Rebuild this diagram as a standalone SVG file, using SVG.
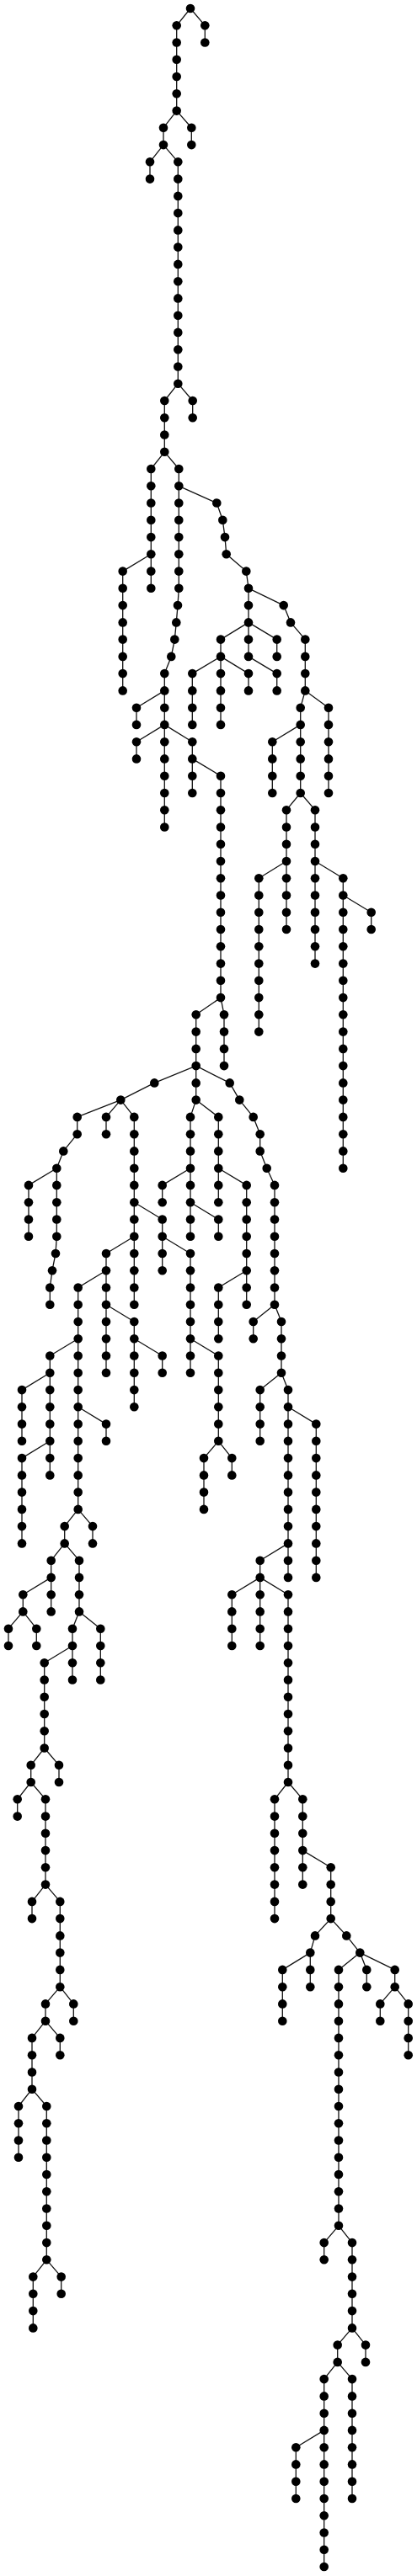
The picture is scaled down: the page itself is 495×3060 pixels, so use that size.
<svg xmlns="http://www.w3.org/2000/svg" width="495" height="3060" viewBox="0 0 495 3060">
<style>
.e path{fill:none;stroke:#111;stroke-width:1.3;stroke-linejoin:round}
.nodes circle{fill:#000}
</style>
<rect width="495" height="3060" fill="#fff"/>
<g class="e" id="connectors">
<path d="M226,10 L243.3,30.3 V50.5"/>
<path d="M226,10 L209.7,30.3 V131.6 L194,151.8 V172.1 L211.3,192.3 V455.7 L195.3,476 V536.8 L212.3,557 V698.8 L211,719.1 L209.3,739.4 L207.3,759.6 L203.3,779.9 L195.3,800.1 V860.9 L228.3,881.2 V901.4 L262,921.7 V1185.1 L232.7,1205.3 V1306.6 L259.3,1326.9 V1387.7 L292.7,1407.9 V1509.2 L259.3,1529.5 V1590.3"/>
<path d="M209.7,131.6 L227.3,151.8 V172.1"/>
<path d="M194,172.1 L178,192.3 V212.6"/>
<path d="M211.3,455.7 L228.7,476 V496.2"/>
<path d="M195.3,536.8 L179.3,557 V658.3 L145.7,678.6 V820.4"/>
<path d="M179.3,658.3 V698.8"/>
<path d="M212.3,577.3 L257.3,597.5 L264.3,617.8 L267,638.1 L268.7,658.3 L292.3,678.6 L295,698.8 V779.9 L328.7,800.1 V820.4"/>
<path d="M295,698.8 L336.7,719.1 L345,739.4 L362.3,759.6 V820.4 L390,840.7 V942"/>
<path d="M362.3,820.4 L356.7,840.7 V942 L374,962.2 V1144.6"/>
<path d="M356.7,860.9 L323.3,881.2 V942"/>
<path d="M356.7,942 L340,962.2 V1023 L307.3,1043.3 V1225.6"/>
<path d="M340,1023 V1104"/>
<path d="M374,1023 L407.3,1043.3 V1387.7"/>
<path d="M407.3,1063.5 L440.7,1083.8 V1104"/>
<path d="M295,739.4 L262,759.6 V860.9"/>
<path d="M295,739.4 L328.7,759.6 V779.9"/>
<path d="M262,779.9 L228.3,800.1 V860.9"/>
<path d="M262,779.9 L295,800.1 V820.4"/>
<path d="M195.3,820.4 L162,840.7 V860.9"/>
<path d="M195.3,860.9 L162,881.2 V901.4"/>
<path d="M195.3,860.9 V982.5"/>
<path d="M228.3,901.4 V942"/>
<path d="M262,1185.1 L266,1205.3 V1266.1"/>
<path d="M232.7,1266.1 L183.3,1286.4 L143.3,1306.6 L91.7,1326.9 V1347.2 L75.3,1367.4 L67.3,1387.7 V1468.7 L66,1489 L62,1509.2 L59.3,1529.5 V1549.8"/>
<path d="M232.7,1266.1 L272.7,1286.4 L284.3,1306.6 L300.7,1326.9 L308.7,1347.2 V1367.4 L316.7,1387.7 L326,1407.9 V1549.8 L334,1570 V1630.8 L342,1651.1 V1833.4 L308.7,1853.7 V1873.9 L342,1894.2 V2117 L359.3,2137.3 V2198.1 L392.7,2218.3 V2279.1 L411.3,2299.4 L427.3,2319.6 L402,2339.9 V2643.8 L418,2664.1 V2765.4 L400.7,2785.6 V2805.9 L384.7,2826.1 V3049"/>
<path d="M67.3,1387.7 L34,1407.9 V1468.7"/>
<path d="M143.3,1306.6 L126,1326.9 V1347.2"/>
<path d="M143.3,1306.6 L159.3,1326.9 V1468.7 L126,1489 V1509.2 L92.7,1529.5 V1792.9 L76.7,1813.1 V1833.4 L94,1853.7 V1914.4 L86,1934.7 V1955 L52.7,1975.2 V2076.5 L36.7,2096.8 V2117 L54,2137.3 V2238.6 L71.3,2258.9 V2360.2 L54,2380.4 V2400.7 L38,2420.9 V2481.7 L55.3,2502 V2684.3 L39.3,2704.6 V2765.4"/>
<path d="M159.3,1428.2 L192.7,1448.5 V1468.7 L226,1489 V1590.3 L259.3,1610.5 V1711.8 L242,1732.1 V1792.9"/>
<path d="M192.7,1468.7 V1509.2"/>
<path d="M159.3,1468.7 V1549.8"/>
<path d="M126,1509.2 V1549.8 L159.3,1570 V1590.3 L192.7,1610.5 V1630.8"/>
<path d="M126,1549.8 V1630.8"/>
<path d="M159.3,1590.3 V1671.3"/>
<path d="M92.7,1590.3 L59.3,1610.5 V1630.8 L26,1651.1 V1711.8"/>
<path d="M59.3,1630.8 V1711.8 L26,1732.1 V1833.4"/>
<path d="M59.3,1711.8 V1752.4"/>
<path d="M92.7,1671.3 L126,1691.6 V1711.8"/>
<path d="M92.7,1792.9 L110,1813.1 V1833.4"/>
<path d="M76.7,1833.4 L60.7,1853.7 V1873.9 L27.3,1894.2 V1914.4 L10,1934.7 V1955"/>
<path d="M60.7,1873.9 V1914.4"/>
<path d="M27.3,1914.4 L43.3,1934.7 V1955"/>
<path d="M94,1914.4 L119.3,1934.7 V1995.5"/>
<path d="M86,1955 V1995.5"/>
<path d="M52.7,2076.5 L70,2096.8 V2117"/>
<path d="M36.7,2117 L20.7,2137.3 V2157.6"/>
<path d="M54,2238.6 L38,2258.9 V2279.1"/>
<path d="M71.3,2360.2 L87.3,2380.4 V2400.7"/>
<path d="M54,2400.7 L71.3,2420.9 V2441.2"/>
<path d="M38,2481.7 L22,2502 V2562.8"/>
<path d="M55.3,2684.3 L72.7,2704.6 V2724.8"/>
<path d="M232.7,1306.6 L226,1326.9 V1468.7"/>
<path d="M226,1387.7 L192.7,1407.9 V1428.2"/>
<path d="M226,1428.2 L259.3,1448.5 V1468.7"/>
<path d="M259.3,1387.7 V1428.2"/>
<path d="M292.7,1509.2 V1549.8"/>
<path d="M226,1590.3 V1630.8"/>
<path d="M259.3,1711.8 L275.3,1732.1 V1752.4"/>
<path d="M326,1549.8 L300.7,1570 V1590.3"/>
<path d="M334,1630.8 L308.7,1651.1 V1711.8"/>
<path d="M342,1671.3 L375.3,1691.6 V1873.9"/>
<path d="M342,1833.4 V1873.9"/>
<path d="M308.7,1873.9 L275.3,1894.2 V1955"/>
<path d="M308.7,1873.9 V1955"/>
<path d="M342,2117 L326,2137.3 V2279.1"/>
<path d="M359.3,2198.1 V2238.6"/>
<path d="M392.7,2279.1 L374,2299.4 L368.3,2319.6 L335.3,2339.9 V2400.7"/>
<path d="M368.3,2319.6 V2360.2"/>
<path d="M427.3,2319.6 L435.3,2339.9 V2360.2"/>
<path d="M427.3,2319.6 L468.7,2339.9 V2360.2 L484.7,2380.4 V2441.2"/>
<path d="M468.7,2360.2 L451.3,2380.4 V2400.7"/>
<path d="M402,2643.8 L384.7,2664.1 V2684.3"/>
<path d="M418,2765.4 L434,2785.6 V2805.9"/>
<path d="M400.7,2805.9 L418,2826.1 V2968"/>
<path d="M384.7,2886.9 L351.3,2907.2 V2968"/>
</g>
<g class="nodes">
<g id="n0"><circle cx="226" cy="10" r="5.3"/></g>
<g id="n1"><circle cx="243.3" cy="30.3" r="5.3"/></g>
<g id="n2"><circle cx="243.3" cy="50.5" r="5.3"/></g>
<g id="n3"><circle cx="209.7" cy="30.3" r="5.3"/></g>
<g id="n4"><circle cx="209.7" cy="50.5" r="5.3"/></g>
<g id="n5"><circle cx="209.7" cy="70.8" r="5.3"/></g>
<g id="n6"><circle cx="209.7" cy="91" r="5.3"/></g>
<g id="n7"><circle cx="209.7" cy="111.3" r="5.3"/></g>
<g id="n8"><circle cx="209.7" cy="131.6" r="5.3"/></g>
<g id="n9"><circle cx="194" cy="151.8" r="5.3"/></g>
<g id="n10"><circle cx="194" cy="172.1" r="5.3"/></g>
<g id="n11"><circle cx="227.3" cy="151.8" r="5.3"/></g>
<g id="n12"><circle cx="227.3" cy="172.1" r="5.3"/></g>
<g id="n13"><circle cx="178" cy="192.3" r="5.3"/></g>
<g id="n14"><circle cx="178" cy="212.6" r="5.3"/></g>
<g id="n15"><circle cx="211.3" cy="192.3" r="5.3"/></g>
<g id="n16"><circle cx="211.3" cy="212.6" r="5.3"/></g>
<g id="n17"><circle cx="211.3" cy="232.9" r="5.3"/></g>
<g id="n18"><circle cx="211.3" cy="253.1" r="5.3"/></g>
<g id="n19"><circle cx="211.3" cy="273.4" r="5.3"/></g>
<g id="n20"><circle cx="211.3" cy="293.6" r="5.3"/></g>
<g id="n21"><circle cx="211.3" cy="313.9" r="5.3"/></g>
<g id="n22"><circle cx="211.3" cy="334.2" r="5.3"/></g>
<g id="n23"><circle cx="211.3" cy="354.4" r="5.3"/></g>
<g id="n24"><circle cx="211.3" cy="374.7" r="5.3"/></g>
<g id="n25"><circle cx="211.3" cy="394.9" r="5.3"/></g>
<g id="n26"><circle cx="211.3" cy="415.2" r="5.3"/></g>
<g id="n27"><circle cx="211.3" cy="435.5" r="5.3"/></g>
<g id="n28"><circle cx="211.3" cy="455.7" r="5.3"/></g>
<g id="n29"><circle cx="195.3" cy="476" r="5.3"/></g>
<g id="n30"><circle cx="195.3" cy="496.2" r="5.3"/></g>
<g id="n31"><circle cx="195.3" cy="516.5" r="5.3"/></g>
<g id="n32"><circle cx="195.3" cy="536.8" r="5.3"/></g>
<g id="n33"><circle cx="228.7" cy="476" r="5.3"/></g>
<g id="n34"><circle cx="228.7" cy="496.2" r="5.3"/></g>
<g id="n35"><circle cx="179.3" cy="557" r="5.3"/></g>
<g id="n36"><circle cx="179.3" cy="577.3" r="5.3"/></g>
<g id="n37"><circle cx="179.3" cy="597.5" r="5.3"/></g>
<g id="n38"><circle cx="179.3" cy="617.8" r="5.3"/></g>
<g id="n39"><circle cx="179.3" cy="638.1" r="5.3"/></g>
<g id="n40"><circle cx="179.3" cy="658.3" r="5.3"/></g>
<g id="n41"><circle cx="179.3" cy="678.6" r="5.3"/></g>
<g id="n42"><circle cx="179.3" cy="698.8" r="5.3"/></g>
<g id="n43"><circle cx="212.3" cy="557" r="5.3"/></g>
<g id="n44"><circle cx="212.3" cy="577.3" r="5.3"/></g>
<g id="n45"><circle cx="212.3" cy="597.5" r="5.3"/></g>
<g id="n46"><circle cx="212.3" cy="617.8" r="5.3"/></g>
<g id="n47"><circle cx="212.3" cy="638.1" r="5.3"/></g>
<g id="n48"><circle cx="212.3" cy="658.3" r="5.3"/></g>
<g id="n49"><circle cx="212.3" cy="678.6" r="5.3"/></g>
<g id="n50"><circle cx="212.3" cy="698.8" r="5.3"/></g>
<g id="n51"><circle cx="145.7" cy="678.6" r="5.3"/></g>
<g id="n52"><circle cx="145.7" cy="698.8" r="5.3"/></g>
<g id="n53"><circle cx="145.7" cy="719.1" r="5.3"/></g>
<g id="n54"><circle cx="145.7" cy="739.4" r="5.3"/></g>
<g id="n55"><circle cx="145.7" cy="759.6" r="5.3"/></g>
<g id="n56"><circle cx="145.7" cy="779.9" r="5.3"/></g>
<g id="n57"><circle cx="145.7" cy="800.1" r="5.3"/></g>
<g id="n58"><circle cx="145.7" cy="820.4" r="5.3"/></g>
<g id="n59"><circle cx="257.3" cy="597.5" r="5.3"/></g>
<g id="n60"><circle cx="264.3" cy="617.8" r="5.3"/></g>
<g id="n61"><circle cx="267" cy="638.1" r="5.3"/></g>
<g id="n62"><circle cx="268.7" cy="658.3" r="5.3"/></g>
<g id="n63"><circle cx="292.3" cy="678.6" r="5.3"/></g>
<g id="n64"><circle cx="295" cy="698.8" r="5.3"/></g>
<g id="n65"><circle cx="295" cy="719.1" r="5.3"/></g>
<g id="n66"><circle cx="295" cy="739.4" r="5.3"/></g>
<g id="n67"><circle cx="295" cy="759.6" r="5.3"/></g>
<g id="n68"><circle cx="295" cy="779.9" r="5.3"/></g>
<g id="n69"><circle cx="211" cy="719.1" r="5.3"/></g>
<g id="n70"><circle cx="209.3" cy="739.4" r="5.3"/></g>
<g id="n71"><circle cx="207.3" cy="759.6" r="5.3"/></g>
<g id="n72"><circle cx="203.3" cy="779.9" r="5.3"/></g>
<g id="n73"><circle cx="195.3" cy="800.1" r="5.3"/></g>
<g id="n74"><circle cx="195.3" cy="820.4" r="5.3"/></g>
<g id="n75"><circle cx="195.3" cy="840.7" r="5.3"/></g>
<g id="n76"><circle cx="195.3" cy="860.9" r="5.3"/></g>
<g id="n77"><circle cx="195.3" cy="881.2" r="5.3"/></g>
<g id="n78"><circle cx="195.3" cy="901.4" r="5.3"/></g>
<g id="n79"><circle cx="195.3" cy="921.7" r="5.3"/></g>
<g id="n80"><circle cx="195.3" cy="942" r="5.3"/></g>
<g id="n81"><circle cx="195.3" cy="962.2" r="5.3"/></g>
<g id="n82"><circle cx="195.3" cy="982.5" r="5.3"/></g>
<g id="n83"><circle cx="336.7" cy="719.1" r="5.3"/></g>
<g id="n84"><circle cx="345" cy="739.4" r="5.3"/></g>
<g id="n85"><circle cx="362.3" cy="759.6" r="5.3"/></g>
<g id="n86"><circle cx="362.3" cy="779.9" r="5.3"/></g>
<g id="n87"><circle cx="362.3" cy="800.1" r="5.3"/></g>
<g id="n88"><circle cx="362.3" cy="820.4" r="5.3"/></g>
<g id="n89"><circle cx="262" cy="759.6" r="5.3"/></g>
<g id="n90"><circle cx="262" cy="779.9" r="5.3"/></g>
<g id="n91"><circle cx="262" cy="800.1" r="5.3"/></g>
<g id="n92"><circle cx="262" cy="820.4" r="5.3"/></g>
<g id="n93"><circle cx="262" cy="840.7" r="5.3"/></g>
<g id="n94"><circle cx="262" cy="860.9" r="5.3"/></g>
<g id="n95"><circle cx="328.7" cy="759.6" r="5.3"/></g>
<g id="n96"><circle cx="328.7" cy="779.9" r="5.3"/></g>
<g id="n97"><circle cx="228.3" cy="800.1" r="5.3"/></g>
<g id="n98"><circle cx="228.3" cy="820.4" r="5.3"/></g>
<g id="n99"><circle cx="228.3" cy="840.7" r="5.3"/></g>
<g id="n100"><circle cx="228.3" cy="860.9" r="5.3"/></g>
<g id="n101"><circle cx="295" cy="800.1" r="5.3"/></g>
<g id="n102"><circle cx="295" cy="820.4" r="5.3"/></g>
<g id="n103"><circle cx="328.7" cy="800.1" r="5.3"/></g>
<g id="n104"><circle cx="328.7" cy="820.4" r="5.3"/></g>
<g id="n105"><circle cx="162" cy="840.7" r="5.3"/></g>
<g id="n106"><circle cx="162" cy="860.9" r="5.3"/></g>
<g id="n107"><circle cx="162" cy="881.2" r="5.3"/></g>
<g id="n108"><circle cx="162" cy="901.4" r="5.3"/></g>
<g id="n109"><circle cx="228.3" cy="881.2" r="5.3"/></g>
<g id="n110"><circle cx="228.3" cy="901.4" r="5.3"/></g>
<g id="n111"><circle cx="228.3" cy="921.7" r="5.3"/></g>
<g id="n112"><circle cx="228.3" cy="942" r="5.3"/></g>
<g id="n113"><circle cx="262" cy="921.7" r="5.3"/></g>
<g id="n114"><circle cx="262" cy="942" r="5.3"/></g>
<g id="n115"><circle cx="262" cy="962.2" r="5.3"/></g>
<g id="n116"><circle cx="262" cy="982.5" r="5.3"/></g>
<g id="n117"><circle cx="262" cy="1002.7" r="5.3"/></g>
<g id="n118"><circle cx="262" cy="1023" r="5.3"/></g>
<g id="n119"><circle cx="262" cy="1043.3" r="5.3"/></g>
<g id="n120"><circle cx="262" cy="1063.5" r="5.3"/></g>
<g id="n121"><circle cx="262" cy="1083.8" r="5.3"/></g>
<g id="n122"><circle cx="262" cy="1104" r="5.3"/></g>
<g id="n123"><circle cx="262" cy="1124.3" r="5.3"/></g>
<g id="n124"><circle cx="262" cy="1144.6" r="5.3"/></g>
<g id="n125"><circle cx="262" cy="1164.8" r="5.3"/></g>
<g id="n126"><circle cx="262" cy="1185.1" r="5.3"/></g>
<g id="n127"><circle cx="390" cy="840.7" r="5.3"/></g>
<g id="n128"><circle cx="390" cy="860.9" r="5.3"/></g>
<g id="n129"><circle cx="390" cy="881.2" r="5.3"/></g>
<g id="n130"><circle cx="390" cy="901.4" r="5.3"/></g>
<g id="n131"><circle cx="390" cy="921.7" r="5.3"/></g>
<g id="n132"><circle cx="390" cy="942" r="5.3"/></g>
<g id="n133"><circle cx="356.7" cy="840.7" r="5.3"/></g>
<g id="n134"><circle cx="356.7" cy="860.9" r="5.3"/></g>
<g id="n135"><circle cx="356.7" cy="881.2" r="5.3"/></g>
<g id="n136"><circle cx="356.7" cy="901.4" r="5.3"/></g>
<g id="n137"><circle cx="356.7" cy="921.7" r="5.3"/></g>
<g id="n138"><circle cx="356.7" cy="942" r="5.3"/></g>
<g id="n139"><circle cx="323.3" cy="881.2" r="5.3"/></g>
<g id="n140"><circle cx="323.3" cy="901.4" r="5.3"/></g>
<g id="n141"><circle cx="323.3" cy="921.7" r="5.3"/></g>
<g id="n142"><circle cx="323.3" cy="942" r="5.3"/></g>
<g id="n143"><circle cx="340" cy="962.2" r="5.3"/></g>
<g id="n144"><circle cx="340" cy="982.5" r="5.3"/></g>
<g id="n145"><circle cx="340" cy="1002.7" r="5.3"/></g>
<g id="n146"><circle cx="340" cy="1023" r="5.3"/></g>
<g id="n147"><circle cx="340" cy="1043.3" r="5.3"/></g>
<g id="n148"><circle cx="340" cy="1063.5" r="5.3"/></g>
<g id="n149"><circle cx="340" cy="1083.8" r="5.3"/></g>
<g id="n150"><circle cx="340" cy="1104" r="5.3"/></g>
<g id="n151"><circle cx="374" cy="962.2" r="5.3"/></g>
<g id="n152"><circle cx="374" cy="982.5" r="5.3"/></g>
<g id="n153"><circle cx="374" cy="1002.7" r="5.3"/></g>
<g id="n154"><circle cx="374" cy="1023" r="5.3"/></g>
<g id="n155"><circle cx="374" cy="1043.3" r="5.3"/></g>
<g id="n156"><circle cx="374" cy="1063.5" r="5.3"/></g>
<g id="n157"><circle cx="374" cy="1083.8" r="5.3"/></g>
<g id="n158"><circle cx="374" cy="1104" r="5.3"/></g>
<g id="n159"><circle cx="374" cy="1124.3" r="5.3"/></g>
<g id="n160"><circle cx="374" cy="1144.6" r="5.3"/></g>
<g id="n161"><circle cx="307.3" cy="1043.3" r="5.3"/></g>
<g id="n162"><circle cx="307.3" cy="1063.5" r="5.3"/></g>
<g id="n163"><circle cx="307.3" cy="1083.8" r="5.3"/></g>
<g id="n164"><circle cx="307.3" cy="1104" r="5.3"/></g>
<g id="n165"><circle cx="307.3" cy="1124.3" r="5.3"/></g>
<g id="n166"><circle cx="307.3" cy="1144.6" r="5.3"/></g>
<g id="n167"><circle cx="307.3" cy="1164.8" r="5.3"/></g>
<g id="n168"><circle cx="307.3" cy="1185.1" r="5.3"/></g>
<g id="n169"><circle cx="307.3" cy="1205.3" r="5.3"/></g>
<g id="n170"><circle cx="307.3" cy="1225.6" r="5.3"/></g>
<g id="n171"><circle cx="407.3" cy="1043.3" r="5.3"/></g>
<g id="n172"><circle cx="407.3" cy="1063.5" r="5.3"/></g>
<g id="n173"><circle cx="407.3" cy="1083.8" r="5.3"/></g>
<g id="n174"><circle cx="407.3" cy="1104" r="5.3"/></g>
<g id="n175"><circle cx="407.3" cy="1124.3" r="5.3"/></g>
<g id="n176"><circle cx="407.3" cy="1144.6" r="5.3"/></g>
<g id="n177"><circle cx="407.3" cy="1164.8" r="5.3"/></g>
<g id="n178"><circle cx="407.3" cy="1185.1" r="5.3"/></g>
<g id="n179"><circle cx="407.3" cy="1205.3" r="5.3"/></g>
<g id="n180"><circle cx="407.3" cy="1225.6" r="5.3"/></g>
<g id="n181"><circle cx="407.3" cy="1245.9" r="5.3"/></g>
<g id="n182"><circle cx="407.3" cy="1266.1" r="5.3"/></g>
<g id="n183"><circle cx="407.3" cy="1286.4" r="5.3"/></g>
<g id="n184"><circle cx="407.3" cy="1306.6" r="5.3"/></g>
<g id="n185"><circle cx="407.3" cy="1326.9" r="5.3"/></g>
<g id="n186"><circle cx="407.3" cy="1347.2" r="5.3"/></g>
<g id="n187"><circle cx="407.3" cy="1367.4" r="5.3"/></g>
<g id="n188"><circle cx="407.3" cy="1387.7" r="5.3"/></g>
<g id="n189"><circle cx="440.7" cy="1083.8" r="5.3"/></g>
<g id="n190"><circle cx="440.7" cy="1104" r="5.3"/></g>
<g id="n191"><circle cx="232.7" cy="1205.3" r="5.3"/></g>
<g id="n192"><circle cx="232.7" cy="1225.6" r="5.3"/></g>
<g id="n193"><circle cx="232.7" cy="1245.9" r="5.3"/></g>
<g id="n194"><circle cx="232.7" cy="1266.1" r="5.3"/></g>
<g id="n195"><circle cx="232.7" cy="1286.4" r="5.3"/></g>
<g id="n196"><circle cx="232.7" cy="1306.6" r="5.3"/></g>
<g id="n197"><circle cx="266" cy="1205.3" r="5.3"/></g>
<g id="n198"><circle cx="266" cy="1225.6" r="5.3"/></g>
<g id="n199"><circle cx="266" cy="1245.9" r="5.3"/></g>
<g id="n200"><circle cx="266" cy="1266.1" r="5.3"/></g>
<g id="n201"><circle cx="183.3" cy="1286.4" r="5.3"/></g>
<g id="n202"><circle cx="272.7" cy="1286.4" r="5.3"/></g>
<g id="n203"><circle cx="284.3" cy="1306.6" r="5.3"/></g>
<g id="n204"><circle cx="300.7" cy="1326.9" r="5.3"/></g>
<g id="n205"><circle cx="308.7" cy="1347.2" r="5.3"/></g>
<g id="n206"><circle cx="308.7" cy="1367.4" r="5.3"/></g>
<g id="n207"><circle cx="316.7" cy="1387.7" r="5.3"/></g>
<g id="n208"><circle cx="143.3" cy="1306.6" r="5.3"/></g>
<g id="n209"><circle cx="91.7" cy="1326.9" r="5.3"/></g>
<g id="n210"><circle cx="91.7" cy="1347.2" r="5.3"/></g>
<g id="n211"><circle cx="75.3" cy="1367.4" r="5.3"/></g>
<g id="n212"><circle cx="67.3" cy="1387.7" r="5.3"/></g>
<g id="n213"><circle cx="67.3" cy="1407.9" r="5.3"/></g>
<g id="n214"><circle cx="67.3" cy="1428.2" r="5.3"/></g>
<g id="n215"><circle cx="67.3" cy="1448.5" r="5.3"/></g>
<g id="n216"><circle cx="67.3" cy="1468.7" r="5.3"/></g>
<g id="n217"><circle cx="66" cy="1489" r="5.3"/></g>
<g id="n218"><circle cx="62" cy="1509.2" r="5.3"/></g>
<g id="n219"><circle cx="59.3" cy="1529.5" r="5.3"/></g>
<g id="n220"><circle cx="59.3" cy="1549.8" r="5.3"/></g>
<g id="n221"><circle cx="126" cy="1326.9" r="5.3"/></g>
<g id="n222"><circle cx="126" cy="1347.2" r="5.3"/></g>
<g id="n223"><circle cx="159.3" cy="1326.9" r="5.3"/></g>
<g id="n224"><circle cx="159.3" cy="1347.2" r="5.3"/></g>
<g id="n225"><circle cx="159.3" cy="1367.4" r="5.3"/></g>
<g id="n226"><circle cx="159.3" cy="1387.7" r="5.3"/></g>
<g id="n227"><circle cx="159.3" cy="1407.9" r="5.3"/></g>
<g id="n228"><circle cx="159.3" cy="1428.2" r="5.3"/></g>
<g id="n229"><circle cx="159.3" cy="1448.5" r="5.3"/></g>
<g id="n230"><circle cx="159.3" cy="1468.7" r="5.3"/></g>
<g id="n231"><circle cx="226" cy="1326.9" r="5.3"/></g>
<g id="n232"><circle cx="226" cy="1347.2" r="5.3"/></g>
<g id="n233"><circle cx="226" cy="1367.4" r="5.3"/></g>
<g id="n234"><circle cx="226" cy="1387.7" r="5.3"/></g>
<g id="n235"><circle cx="226" cy="1407.9" r="5.3"/></g>
<g id="n236"><circle cx="226" cy="1428.2" r="5.3"/></g>
<g id="n237"><circle cx="226" cy="1448.5" r="5.3"/></g>
<g id="n238"><circle cx="226" cy="1468.7" r="5.3"/></g>
<g id="n239"><circle cx="259.3" cy="1326.9" r="5.3"/></g>
<g id="n240"><circle cx="259.3" cy="1347.2" r="5.3"/></g>
<g id="n241"><circle cx="259.3" cy="1367.4" r="5.3"/></g>
<g id="n242"><circle cx="259.3" cy="1387.7" r="5.3"/></g>
<g id="n243"><circle cx="34" cy="1407.9" r="5.3"/></g>
<g id="n244"><circle cx="34" cy="1428.2" r="5.3"/></g>
<g id="n245"><circle cx="34" cy="1448.5" r="5.3"/></g>
<g id="n246"><circle cx="34" cy="1468.7" r="5.3"/></g>
<g id="n247"><circle cx="192.7" cy="1407.9" r="5.3"/></g>
<g id="n248"><circle cx="192.7" cy="1428.2" r="5.3"/></g>
<g id="n249"><circle cx="259.3" cy="1407.9" r="5.3"/></g>
<g id="n250"><circle cx="259.3" cy="1428.2" r="5.3"/></g>
<g id="n251"><circle cx="292.7" cy="1407.9" r="5.3"/></g>
<g id="n252"><circle cx="292.7" cy="1428.2" r="5.3"/></g>
<g id="n253"><circle cx="292.7" cy="1448.5" r="5.3"/></g>
<g id="n254"><circle cx="292.7" cy="1468.7" r="5.3"/></g>
<g id="n255"><circle cx="292.7" cy="1489" r="5.3"/></g>
<g id="n256"><circle cx="292.7" cy="1509.2" r="5.3"/></g>
<g id="n257"><circle cx="326" cy="1407.9" r="5.3"/></g>
<g id="n258"><circle cx="326" cy="1428.2" r="5.3"/></g>
<g id="n259"><circle cx="326" cy="1448.5" r="5.3"/></g>
<g id="n260"><circle cx="326" cy="1468.7" r="5.3"/></g>
<g id="n261"><circle cx="326" cy="1489" r="5.3"/></g>
<g id="n262"><circle cx="326" cy="1509.2" r="5.3"/></g>
<g id="n263"><circle cx="326" cy="1529.5" r="5.3"/></g>
<g id="n264"><circle cx="326" cy="1549.8" r="5.3"/></g>
<g id="n265"><circle cx="192.7" cy="1448.5" r="5.3"/></g>
<g id="n266"><circle cx="192.7" cy="1468.7" r="5.3"/></g>
<g id="n267"><circle cx="192.7" cy="1489" r="5.3"/></g>
<g id="n268"><circle cx="192.7" cy="1509.2" r="5.3"/></g>
<g id="n269"><circle cx="259.3" cy="1448.5" r="5.3"/></g>
<g id="n270"><circle cx="259.3" cy="1468.7" r="5.3"/></g>
<g id="n271"><circle cx="126" cy="1489" r="5.3"/></g>
<g id="n272"><circle cx="126" cy="1509.2" r="5.3"/></g>
<g id="n273"><circle cx="126" cy="1529.5" r="5.3"/></g>
<g id="n274"><circle cx="126" cy="1549.8" r="5.3"/></g>
<g id="n275"><circle cx="126" cy="1570" r="5.3"/></g>
<g id="n276"><circle cx="126" cy="1590.3" r="5.3"/></g>
<g id="n277"><circle cx="126" cy="1610.5" r="5.3"/></g>
<g id="n278"><circle cx="126" cy="1630.8" r="5.3"/></g>
<g id="n279"><circle cx="159.3" cy="1489" r="5.3"/></g>
<g id="n280"><circle cx="159.3" cy="1509.2" r="5.3"/></g>
<g id="n281"><circle cx="159.3" cy="1529.5" r="5.3"/></g>
<g id="n282"><circle cx="159.3" cy="1549.8" r="5.3"/></g>
<g id="n283"><circle cx="226" cy="1489" r="5.3"/></g>
<g id="n284"><circle cx="226" cy="1509.2" r="5.3"/></g>
<g id="n285"><circle cx="226" cy="1529.5" r="5.3"/></g>
<g id="n286"><circle cx="226" cy="1549.8" r="5.3"/></g>
<g id="n287"><circle cx="226" cy="1570" r="5.3"/></g>
<g id="n288"><circle cx="226" cy="1590.3" r="5.3"/></g>
<g id="n289"><circle cx="226" cy="1610.5" r="5.3"/></g>
<g id="n290"><circle cx="226" cy="1630.8" r="5.3"/></g>
<g id="n291"><circle cx="92.7" cy="1529.5" r="5.3"/></g>
<g id="n292"><circle cx="92.7" cy="1549.8" r="5.3"/></g>
<g id="n293"><circle cx="92.7" cy="1570" r="5.3"/></g>
<g id="n294"><circle cx="92.7" cy="1590.3" r="5.3"/></g>
<g id="n295"><circle cx="92.7" cy="1610.5" r="5.3"/></g>
<g id="n296"><circle cx="92.7" cy="1630.8" r="5.3"/></g>
<g id="n297"><circle cx="92.7" cy="1651.1" r="5.3"/></g>
<g id="n298"><circle cx="92.7" cy="1671.3" r="5.3"/></g>
<g id="n299"><circle cx="92.7" cy="1691.6" r="5.3"/></g>
<g id="n300"><circle cx="92.7" cy="1711.8" r="5.3"/></g>
<g id="n301"><circle cx="92.7" cy="1732.1" r="5.3"/></g>
<g id="n302"><circle cx="92.7" cy="1752.4" r="5.3"/></g>
<g id="n303"><circle cx="92.7" cy="1772.6" r="5.3"/></g>
<g id="n304"><circle cx="92.7" cy="1792.9" r="5.3"/></g>
<g id="n305"><circle cx="259.3" cy="1529.5" r="5.3"/></g>
<g id="n306"><circle cx="259.3" cy="1549.8" r="5.3"/></g>
<g id="n307"><circle cx="259.3" cy="1570" r="5.3"/></g>
<g id="n308"><circle cx="259.3" cy="1590.3" r="5.3"/></g>
<g id="n309"><circle cx="292.7" cy="1529.5" r="5.3"/></g>
<g id="n310"><circle cx="292.7" cy="1549.8" r="5.3"/></g>
<g id="n311"><circle cx="159.3" cy="1570" r="5.3"/></g>
<g id="n312"><circle cx="159.3" cy="1590.3" r="5.3"/></g>
<g id="n313"><circle cx="159.3" cy="1610.5" r="5.3"/></g>
<g id="n314"><circle cx="159.3" cy="1630.8" r="5.3"/></g>
<g id="n315"><circle cx="159.3" cy="1651.1" r="5.3"/></g>
<g id="n316"><circle cx="159.3" cy="1671.3" r="5.3"/></g>
<g id="n317"><circle cx="300.7" cy="1570" r="5.3"/></g>
<g id="n318"><circle cx="300.7" cy="1590.3" r="5.3"/></g>
<g id="n319"><circle cx="334" cy="1570" r="5.3"/></g>
<g id="n320"><circle cx="334" cy="1590.3" r="5.3"/></g>
<g id="n321"><circle cx="334" cy="1610.5" r="5.3"/></g>
<g id="n322"><circle cx="334" cy="1630.8" r="5.3"/></g>
<g id="n323"><circle cx="59.3" cy="1610.5" r="5.3"/></g>
<g id="n324"><circle cx="59.3" cy="1630.8" r="5.3"/></g>
<g id="n325"><circle cx="59.3" cy="1651.1" r="5.3"/></g>
<g id="n326"><circle cx="59.3" cy="1671.3" r="5.3"/></g>
<g id="n327"><circle cx="59.3" cy="1691.6" r="5.3"/></g>
<g id="n328"><circle cx="59.3" cy="1711.8" r="5.3"/></g>
<g id="n329"><circle cx="59.3" cy="1732.1" r="5.3"/></g>
<g id="n330"><circle cx="59.3" cy="1752.4" r="5.3"/></g>
<g id="n331"><circle cx="192.7" cy="1610.5" r="5.3"/></g>
<g id="n332"><circle cx="192.7" cy="1630.8" r="5.3"/></g>
<g id="n333"><circle cx="259.3" cy="1610.5" r="5.3"/></g>
<g id="n334"><circle cx="259.3" cy="1630.8" r="5.3"/></g>
<g id="n335"><circle cx="259.3" cy="1651.1" r="5.3"/></g>
<g id="n336"><circle cx="259.3" cy="1671.3" r="5.3"/></g>
<g id="n337"><circle cx="259.3" cy="1691.6" r="5.3"/></g>
<g id="n338"><circle cx="259.3" cy="1711.8" r="5.3"/></g>
<g id="n339"><circle cx="26" cy="1651.1" r="5.3"/></g>
<g id="n340"><circle cx="26" cy="1671.3" r="5.3"/></g>
<g id="n341"><circle cx="26" cy="1691.6" r="5.3"/></g>
<g id="n342"><circle cx="26" cy="1711.8" r="5.3"/></g>
<g id="n343"><circle cx="308.7" cy="1651.1" r="5.3"/></g>
<g id="n344"><circle cx="308.7" cy="1671.3" r="5.3"/></g>
<g id="n345"><circle cx="308.7" cy="1691.6" r="5.3"/></g>
<g id="n346"><circle cx="308.7" cy="1711.8" r="5.3"/></g>
<g id="n347"><circle cx="342" cy="1651.1" r="5.3"/></g>
<g id="n348"><circle cx="342" cy="1671.3" r="5.3"/></g>
<g id="n349"><circle cx="342" cy="1691.6" r="5.3"/></g>
<g id="n350"><circle cx="342" cy="1711.8" r="5.3"/></g>
<g id="n351"><circle cx="342" cy="1732.1" r="5.3"/></g>
<g id="n352"><circle cx="342" cy="1752.4" r="5.3"/></g>
<g id="n353"><circle cx="342" cy="1772.6" r="5.3"/></g>
<g id="n354"><circle cx="342" cy="1792.9" r="5.3"/></g>
<g id="n355"><circle cx="342" cy="1813.1" r="5.3"/></g>
<g id="n356"><circle cx="342" cy="1833.4" r="5.3"/></g>
<g id="n357"><circle cx="126" cy="1691.6" r="5.3"/></g>
<g id="n358"><circle cx="126" cy="1711.8" r="5.3"/></g>
<g id="n359"><circle cx="375.3" cy="1691.6" r="5.3"/></g>
<g id="n360"><circle cx="375.3" cy="1711.8" r="5.3"/></g>
<g id="n361"><circle cx="375.3" cy="1732.1" r="5.3"/></g>
<g id="n362"><circle cx="375.3" cy="1752.4" r="5.3"/></g>
<g id="n363"><circle cx="375.3" cy="1772.6" r="5.3"/></g>
<g id="n364"><circle cx="375.3" cy="1792.9" r="5.3"/></g>
<g id="n365"><circle cx="375.3" cy="1813.1" r="5.3"/></g>
<g id="n366"><circle cx="375.3" cy="1833.4" r="5.3"/></g>
<g id="n367"><circle cx="375.3" cy="1853.7" r="5.3"/></g>
<g id="n368"><circle cx="375.3" cy="1873.9" r="5.3"/></g>
<g id="n369"><circle cx="26" cy="1732.1" r="5.3"/></g>
<g id="n370"><circle cx="26" cy="1752.4" r="5.3"/></g>
<g id="n371"><circle cx="26" cy="1772.6" r="5.3"/></g>
<g id="n372"><circle cx="26" cy="1792.9" r="5.3"/></g>
<g id="n373"><circle cx="26" cy="1813.1" r="5.3"/></g>
<g id="n374"><circle cx="26" cy="1833.4" r="5.3"/></g>
<g id="n375"><circle cx="242" cy="1732.1" r="5.3"/></g>
<g id="n376"><circle cx="242" cy="1752.4" r="5.3"/></g>
<g id="n377"><circle cx="242" cy="1772.6" r="5.3"/></g>
<g id="n378"><circle cx="242" cy="1792.9" r="5.3"/></g>
<g id="n379"><circle cx="275.3" cy="1732.1" r="5.3"/></g>
<g id="n380"><circle cx="275.3" cy="1752.4" r="5.3"/></g>
<g id="n381"><circle cx="76.7" cy="1813.1" r="5.3"/></g>
<g id="n382"><circle cx="76.7" cy="1833.4" r="5.3"/></g>
<g id="n383"><circle cx="110" cy="1813.1" r="5.3"/></g>
<g id="n384"><circle cx="110" cy="1833.4" r="5.3"/></g>
<g id="n385"><circle cx="60.7" cy="1853.7" r="5.3"/></g>
<g id="n386"><circle cx="60.7" cy="1873.9" r="5.3"/></g>
<g id="n387"><circle cx="60.7" cy="1894.2" r="5.3"/></g>
<g id="n388"><circle cx="60.7" cy="1914.4" r="5.3"/></g>
<g id="n389"><circle cx="94" cy="1853.7" r="5.3"/></g>
<g id="n390"><circle cx="94" cy="1873.9" r="5.3"/></g>
<g id="n391"><circle cx="94" cy="1894.2" r="5.3"/></g>
<g id="n392"><circle cx="94" cy="1914.4" r="5.3"/></g>
<g id="n393"><circle cx="308.7" cy="1853.7" r="5.3"/></g>
<g id="n394"><circle cx="308.7" cy="1873.9" r="5.3"/></g>
<g id="n395"><circle cx="308.7" cy="1894.2" r="5.3"/></g>
<g id="n396"><circle cx="308.7" cy="1914.4" r="5.3"/></g>
<g id="n397"><circle cx="308.7" cy="1934.7" r="5.3"/></g>
<g id="n398"><circle cx="308.7" cy="1955" r="5.3"/></g>
<g id="n399"><circle cx="342" cy="1853.7" r="5.3"/></g>
<g id="n400"><circle cx="342" cy="1873.9" r="5.3"/></g>
<g id="n401"><circle cx="27.3" cy="1894.2" r="5.3"/></g>
<g id="n402"><circle cx="27.3" cy="1914.4" r="5.3"/></g>
<g id="n403"><circle cx="275.3" cy="1894.2" r="5.3"/></g>
<g id="n404"><circle cx="275.3" cy="1914.4" r="5.3"/></g>
<g id="n405"><circle cx="275.3" cy="1934.7" r="5.3"/></g>
<g id="n406"><circle cx="275.3" cy="1955" r="5.3"/></g>
<g id="n407"><circle cx="342" cy="1894.2" r="5.3"/></g>
<g id="n408"><circle cx="342" cy="1914.4" r="5.3"/></g>
<g id="n409"><circle cx="342" cy="1934.7" r="5.3"/></g>
<g id="n410"><circle cx="342" cy="1955" r="5.3"/></g>
<g id="n411"><circle cx="342" cy="1975.2" r="5.3"/></g>
<g id="n412"><circle cx="342" cy="1995.5" r="5.3"/></g>
<g id="n413"><circle cx="342" cy="2015.7" r="5.3"/></g>
<g id="n414"><circle cx="342" cy="2036" r="5.3"/></g>
<g id="n415"><circle cx="342" cy="2056.3" r="5.3"/></g>
<g id="n416"><circle cx="342" cy="2076.5" r="5.3"/></g>
<g id="n417"><circle cx="342" cy="2096.8" r="5.3"/></g>
<g id="n418"><circle cx="342" cy="2117" r="5.3"/></g>
<g id="n419"><circle cx="10" cy="1934.7" r="5.3"/></g>
<g id="n420"><circle cx="10" cy="1955" r="5.3"/></g>
<g id="n421"><circle cx="43.3" cy="1934.7" r="5.3"/></g>
<g id="n422"><circle cx="43.3" cy="1955" r="5.3"/></g>
<g id="n423"><circle cx="86" cy="1934.7" r="5.3"/></g>
<g id="n424"><circle cx="86" cy="1955" r="5.3"/></g>
<g id="n425"><circle cx="86" cy="1975.2" r="5.3"/></g>
<g id="n426"><circle cx="86" cy="1995.5" r="5.3"/></g>
<g id="n427"><circle cx="119.3" cy="1934.7" r="5.3"/></g>
<g id="n428"><circle cx="119.3" cy="1955" r="5.3"/></g>
<g id="n429"><circle cx="119.3" cy="1975.2" r="5.3"/></g>
<g id="n430"><circle cx="119.3" cy="1995.5" r="5.3"/></g>
<g id="n431"><circle cx="52.7" cy="1975.2" r="5.3"/></g>
<g id="n432"><circle cx="52.7" cy="1995.5" r="5.3"/></g>
<g id="n433"><circle cx="52.7" cy="2015.7" r="5.3"/></g>
<g id="n434"><circle cx="52.7" cy="2036" r="5.3"/></g>
<g id="n435"><circle cx="52.7" cy="2056.3" r="5.3"/></g>
<g id="n436"><circle cx="52.7" cy="2076.5" r="5.3"/></g>
<g id="n437"><circle cx="36.7" cy="2096.8" r="5.3"/></g>
<g id="n438"><circle cx="36.7" cy="2117" r="5.3"/></g>
<g id="n439"><circle cx="70" cy="2096.8" r="5.3"/></g>
<g id="n440"><circle cx="70" cy="2117" r="5.3"/></g>
<g id="n441"><circle cx="20.7" cy="2137.3" r="5.3"/></g>
<g id="n442"><circle cx="20.7" cy="2157.6" r="5.3"/></g>
<g id="n443"><circle cx="54" cy="2137.3" r="5.3"/></g>
<g id="n444"><circle cx="54" cy="2157.6" r="5.3"/></g>
<g id="n445"><circle cx="54" cy="2177.8" r="5.3"/></g>
<g id="n446"><circle cx="54" cy="2198.1" r="5.3"/></g>
<g id="n447"><circle cx="54" cy="2218.3" r="5.3"/></g>
<g id="n448"><circle cx="54" cy="2238.6" r="5.3"/></g>
<g id="n449"><circle cx="326" cy="2137.3" r="5.3"/></g>
<g id="n450"><circle cx="326" cy="2157.6" r="5.3"/></g>
<g id="n451"><circle cx="326" cy="2177.8" r="5.3"/></g>
<g id="n452"><circle cx="326" cy="2198.1" r="5.3"/></g>
<g id="n453"><circle cx="326" cy="2218.3" r="5.3"/></g>
<g id="n454"><circle cx="326" cy="2238.6" r="5.3"/></g>
<g id="n455"><circle cx="326" cy="2258.9" r="5.3"/></g>
<g id="n456"><circle cx="326" cy="2279.1" r="5.3"/></g>
<g id="n457"><circle cx="359.3" cy="2137.3" r="5.3"/></g>
<g id="n458"><circle cx="359.3" cy="2157.6" r="5.3"/></g>
<g id="n459"><circle cx="359.3" cy="2177.8" r="5.3"/></g>
<g id="n460"><circle cx="359.3" cy="2198.1" r="5.3"/></g>
<g id="n461"><circle cx="359.3" cy="2218.3" r="5.3"/></g>
<g id="n462"><circle cx="359.3" cy="2238.6" r="5.3"/></g>
<g id="n463"><circle cx="392.7" cy="2218.3" r="5.3"/></g>
<g id="n464"><circle cx="392.7" cy="2238.6" r="5.3"/></g>
<g id="n465"><circle cx="392.7" cy="2258.9" r="5.3"/></g>
<g id="n466"><circle cx="392.7" cy="2279.1" r="5.3"/></g>
<g id="n467"><circle cx="38" cy="2258.9" r="5.3"/></g>
<g id="n468"><circle cx="38" cy="2279.1" r="5.3"/></g>
<g id="n469"><circle cx="71.3" cy="2258.9" r="5.3"/></g>
<g id="n470"><circle cx="71.3" cy="2279.1" r="5.3"/></g>
<g id="n471"><circle cx="71.3" cy="2299.4" r="5.3"/></g>
<g id="n472"><circle cx="71.3" cy="2319.6" r="5.3"/></g>
<g id="n473"><circle cx="71.3" cy="2339.9" r="5.3"/></g>
<g id="n474"><circle cx="71.3" cy="2360.2" r="5.3"/></g>
<g id="n475"><circle cx="374" cy="2299.4" r="5.3"/></g>
<g id="n476"><circle cx="411.3" cy="2299.4" r="5.3"/></g>
<g id="n477"><circle cx="368.3" cy="2319.6" r="5.3"/></g>
<g id="n478"><circle cx="368.3" cy="2339.9" r="5.3"/></g>
<g id="n479"><circle cx="368.3" cy="2360.2" r="5.3"/></g>
<g id="n480"><circle cx="427.3" cy="2319.6" r="5.3"/></g>
<g id="n481"><circle cx="335.3" cy="2339.9" r="5.3"/></g>
<g id="n482"><circle cx="335.3" cy="2360.2" r="5.3"/></g>
<g id="n483"><circle cx="335.3" cy="2380.4" r="5.3"/></g>
<g id="n484"><circle cx="335.3" cy="2400.7" r="5.3"/></g>
<g id="n485"><circle cx="402" cy="2339.9" r="5.3"/></g>
<g id="n486"><circle cx="402" cy="2360.2" r="5.3"/></g>
<g id="n487"><circle cx="402" cy="2380.4" r="5.3"/></g>
<g id="n488"><circle cx="402" cy="2400.7" r="5.3"/></g>
<g id="n489"><circle cx="402" cy="2420.9" r="5.3"/></g>
<g id="n490"><circle cx="402" cy="2441.2" r="5.3"/></g>
<g id="n491"><circle cx="402" cy="2461.5" r="5.3"/></g>
<g id="n492"><circle cx="402" cy="2481.7" r="5.3"/></g>
<g id="n493"><circle cx="402" cy="2502" r="5.3"/></g>
<g id="n494"><circle cx="402" cy="2522.2" r="5.3"/></g>
<g id="n495"><circle cx="402" cy="2542.5" r="5.3"/></g>
<g id="n496"><circle cx="402" cy="2562.8" r="5.3"/></g>
<g id="n497"><circle cx="402" cy="2583" r="5.3"/></g>
<g id="n498"><circle cx="402" cy="2603.3" r="5.3"/></g>
<g id="n499"><circle cx="402" cy="2623.5" r="5.3"/></g>
<g id="n500"><circle cx="402" cy="2643.8" r="5.3"/></g>
<g id="n501"><circle cx="435.3" cy="2339.9" r="5.3"/></g>
<g id="n502"><circle cx="435.3" cy="2360.2" r="5.3"/></g>
<g id="n503"><circle cx="468.7" cy="2339.9" r="5.3"/></g>
<g id="n504"><circle cx="468.7" cy="2360.2" r="5.3"/></g>
<g id="n505"><circle cx="54" cy="2380.4" r="5.3"/></g>
<g id="n506"><circle cx="54" cy="2400.7" r="5.3"/></g>
<g id="n507"><circle cx="87.3" cy="2380.4" r="5.3"/></g>
<g id="n508"><circle cx="87.3" cy="2400.7" r="5.3"/></g>
<g id="n509"><circle cx="451.3" cy="2380.4" r="5.3"/></g>
<g id="n510"><circle cx="451.3" cy="2400.7" r="5.3"/></g>
<g id="n511"><circle cx="484.7" cy="2380.4" r="5.3"/></g>
<g id="n512"><circle cx="484.7" cy="2400.7" r="5.3"/></g>
<g id="n513"><circle cx="484.7" cy="2420.9" r="5.3"/></g>
<g id="n514"><circle cx="484.7" cy="2441.2" r="5.3"/></g>
<g id="n515"><circle cx="38" cy="2420.9" r="5.3"/></g>
<g id="n516"><circle cx="38" cy="2441.2" r="5.3"/></g>
<g id="n517"><circle cx="38" cy="2461.5" r="5.3"/></g>
<g id="n518"><circle cx="38" cy="2481.7" r="5.3"/></g>
<g id="n519"><circle cx="71.3" cy="2420.9" r="5.3"/></g>
<g id="n520"><circle cx="71.3" cy="2441.2" r="5.3"/></g>
<g id="n521"><circle cx="22" cy="2502" r="5.3"/></g>
<g id="n522"><circle cx="22" cy="2522.2" r="5.3"/></g>
<g id="n523"><circle cx="22" cy="2542.5" r="5.3"/></g>
<g id="n524"><circle cx="22" cy="2562.8" r="5.3"/></g>
<g id="n525"><circle cx="55.3" cy="2502" r="5.3"/></g>
<g id="n526"><circle cx="55.3" cy="2522.2" r="5.3"/></g>
<g id="n527"><circle cx="55.3" cy="2542.5" r="5.3"/></g>
<g id="n528"><circle cx="55.3" cy="2562.8" r="5.3"/></g>
<g id="n529"><circle cx="55.3" cy="2583" r="5.3"/></g>
<g id="n530"><circle cx="55.3" cy="2603.3" r="5.3"/></g>
<g id="n531"><circle cx="55.3" cy="2623.5" r="5.3"/></g>
<g id="n532"><circle cx="55.3" cy="2643.8" r="5.3"/></g>
<g id="n533"><circle cx="55.3" cy="2664.1" r="5.3"/></g>
<g id="n534"><circle cx="55.3" cy="2684.3" r="5.3"/></g>
<g id="n535"><circle cx="384.7" cy="2664.1" r="5.3"/></g>
<g id="n536"><circle cx="384.7" cy="2684.3" r="5.3"/></g>
<g id="n537"><circle cx="418" cy="2664.1" r="5.3"/></g>
<g id="n538"><circle cx="418" cy="2684.3" r="5.3"/></g>
<g id="n539"><circle cx="418" cy="2704.6" r="5.3"/></g>
<g id="n540"><circle cx="418" cy="2724.8" r="5.3"/></g>
<g id="n541"><circle cx="418" cy="2745.1" r="5.3"/></g>
<g id="n542"><circle cx="418" cy="2765.4" r="5.3"/></g>
<g id="n543"><circle cx="39.3" cy="2704.6" r="5.3"/></g>
<g id="n544"><circle cx="39.3" cy="2724.8" r="5.3"/></g>
<g id="n545"><circle cx="39.3" cy="2745.1" r="5.3"/></g>
<g id="n546"><circle cx="39.3" cy="2765.4" r="5.3"/></g>
<g id="n547"><circle cx="72.7" cy="2704.6" r="5.3"/></g>
<g id="n548"><circle cx="72.7" cy="2724.8" r="5.3"/></g>
<g id="n549"><circle cx="400.7" cy="2785.6" r="5.3"/></g>
<g id="n550"><circle cx="400.7" cy="2805.9" r="5.3"/></g>
<g id="n551"><circle cx="434" cy="2785.6" r="5.3"/></g>
<g id="n552"><circle cx="434" cy="2805.9" r="5.3"/></g>
<g id="n553"><circle cx="384.7" cy="2826.1" r="5.3"/></g>
<g id="n554"><circle cx="384.7" cy="2846.4" r="5.3"/></g>
<g id="n555"><circle cx="384.7" cy="2866.7" r="5.3"/></g>
<g id="n556"><circle cx="384.7" cy="2886.9" r="5.3"/></g>
<g id="n557"><circle cx="384.7" cy="2907.2" r="5.3"/></g>
<g id="n558"><circle cx="384.7" cy="2927.4" r="5.3"/></g>
<g id="n559"><circle cx="384.7" cy="2947.7" r="5.3"/></g>
<g id="n560"><circle cx="384.7" cy="2968" r="5.3"/></g>
<g id="n561"><circle cx="384.7" cy="2988.2" r="5.3"/></g>
<g id="n562"><circle cx="384.7" cy="3008.5" r="5.3"/></g>
<g id="n563"><circle cx="384.7" cy="3028.7" r="5.3"/></g>
<g id="n564"><circle cx="384.7" cy="3049" r="5.3"/></g>
<g id="n565"><circle cx="418" cy="2826.1" r="5.3"/></g>
<g id="n566"><circle cx="418" cy="2846.4" r="5.3"/></g>
<g id="n567"><circle cx="418" cy="2866.7" r="5.3"/></g>
<g id="n568"><circle cx="418" cy="2886.9" r="5.3"/></g>
<g id="n569"><circle cx="418" cy="2907.2" r="5.3"/></g>
<g id="n570"><circle cx="418" cy="2927.4" r="5.3"/></g>
<g id="n571"><circle cx="418" cy="2947.7" r="5.3"/></g>
<g id="n572"><circle cx="418" cy="2968" r="5.3"/></g>
<g id="n573"><circle cx="351.3" cy="2907.2" r="5.3"/></g>
<g id="n574"><circle cx="351.3" cy="2927.4" r="5.3"/></g>
<g id="n575"><circle cx="351.3" cy="2947.7" r="5.3"/></g>
<g id="n576"><circle cx="351.3" cy="2968" r="5.3"/></g>
</g>
</svg>
